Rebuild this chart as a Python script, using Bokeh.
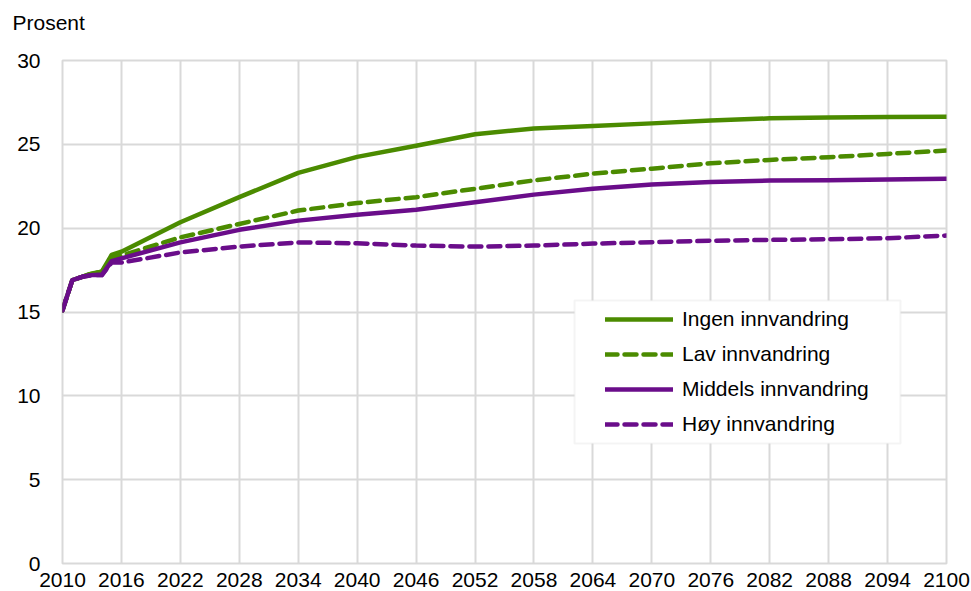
from bokeh.plotting import figure
from bokeh.models import Range1d, FixedTicker, Legend, LegendItem, BoxAnnotation, Title
from bokeh.embed import file_html
from bokeh.resources import INLINE

years = [2010, 2011, 2012, 2013, 2014, 2015, 2016, 2022, 2028, 2034, 2040, 2046,
         2052, 2058, 2064, 2070, 2076, 2082, 2088, 2094, 2100]
ingen = [15.1, 16.9, 17.1, 17.3, 17.4, 18.4, 18.6, 20.35, 21.85, 23.3, 24.25, 24.92,
         25.6, 25.95, 26.1, 26.25, 26.42, 26.55, 26.6, 26.63, 26.64]
lav = [15.1, 16.9, 17.1, 17.3, 17.4, 18.2, 18.37, 19.45, 20.25, 21.05, 21.5, 21.85,
       22.35, 22.85, 23.25, 23.55, 23.87, 24.07, 24.23, 24.43, 24.63]
middels = [15.1, 16.9, 17.1, 17.2, 17.2, 18.03, 18.2, 19.15, 19.9, 20.45, 20.8, 21.1,
           21.55, 22.0, 22.35, 22.6, 22.76, 22.84, 22.86, 22.9, 22.94]
hoy = [15.1, 16.9, 17.1, 17.2, 17.2, 17.95, 17.95, 18.55, 18.9, 19.15, 19.1, 18.96,
       18.9, 18.96, 19.08, 19.16, 19.25, 19.3, 19.34, 19.4, 19.56]

series_names = ["Ingen innvandring", "Lav innvandring", "Middels innvandring", "Høy innvandring"]
x_ticks = list(range(2010, 2101, 6))
y_ticks = [0, 5, 10, 15, 20, 25, 30]

GREEN = "#4b8b00"
PURPLE = "#6a0d8a"
GRID = "#d9d9d9"
FONT = "Liberation Sans"

p = figure(width=971, height=591, output_backend="svg", toolbar_location=None,
           x_range=Range1d(2010, 2100), y_range=Range1d(0, 30),
           min_border_left=62, min_border_right=25, min_border_top=60, min_border_bottom=28)
p.background_fill_color = "white"
p.border_fill_color = "white"
p.outline_line_color = GRID
p.outline_line_width = 2

for ax in (p.xaxis, p.yaxis):
    ax.axis_line_color = None
    ax.major_tick_line_color = None
    ax.minor_tick_line_color = None
    ax.major_label_text_font = FONT
    ax.major_label_text_font_size = "21px"
    ax.major_label_text_color = "black"
p.xaxis.ticker = FixedTicker(ticks=x_ticks)
p.yaxis.ticker = FixedTicker(ticks=y_ticks)
p.xaxis.major_label_standoff = 3
p.yaxis.major_label_standoff = 16

p.xgrid.ticker = FixedTicker(ticks=x_ticks)
p.ygrid.ticker = FixedTicker(ticks=y_ticks)
for g in (p.xgrid, p.ygrid):
    g.grid_line_color = GRID
    g.grid_line_width = 2

styles = [(ingen, GREEN, "solid"), (lav, GREEN, "12 7"),
          (middels, PURPLE, "solid"), (hoy, PURPLE, "12 7")]
renderers = []
for vals, col, dash in styles:
    r = p.line(years, vals, line_color=col, line_width=4.5, line_dash=dash,
               line_cap="round", line_join="round")
    renderers.append(r)

box = BoxAnnotation(left=2062.13, right=2095.32, bottom=7.16, top=15.68,
                    fill_color="white", fill_alpha=1.0, line_color=GRID, line_width=2,
                    level="annotation")
p.add_layout(box)

legend = Legend(items=[LegendItem(label=n, renderers=[r]) for n, r in zip(series_names, renderers)],
                location=(543, 124), padding=0, margin=0, spacing=5,
                label_height=30, glyph_height=30, glyph_width=68, label_standoff=9,
                label_text_font=FONT, label_text_font_size="21px", label_text_color="black",
                border_line_color=None, background_fill_alpha=0)
p.add_layout(legend)

# spacer (nearest the frame), then the unit label above it
spacer = Title(text=" ", text_font_size="10px", standoff=4)
p.add_layout(spacer, "above")
title = Title(text="Prosent", align="left", offset=-50, standoff=16,
              text_font=FONT, text_font_size="21px", text_color="black",
              text_font_style="normal", vertical_align="top")
p.add_layout(title, "above")

open("out.html", "w").write(file_html(p, INLINE))
